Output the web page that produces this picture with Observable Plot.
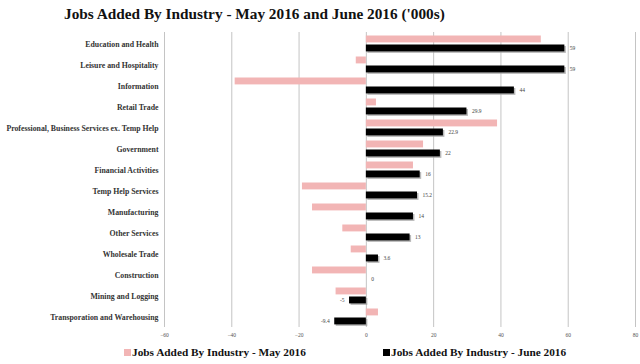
<!DOCTYPE html>
<html>
<head>
<meta charset="utf-8">
<script src="https://cdn.jsdelivr.net/npm/d3@7"></script>
<script src="https://cdn.jsdelivr.net/npm/@observablehq/plot@0.6"></script>
<style>
  body { margin: 0; background: #fff; width: 640px; height: 364px; overflow: hidden; font-family: "Liberation Serif", serif; }
  #title { height: 28px; line-height: 28px; padding-left: 64px; font-weight: bold; font-size: 15.3px; color: #111; }
  #legend { position: relative; height: 20px; font-weight: bold; font-size: 11.3px; color: #111; }
  .item { position: absolute; top: 2px; white-space: nowrap; }
  .sw { display: inline-block; width: 7px; height: 7px; margin-right: 1px; vertical-align: 0px; }
</style>
</head>
<body>
<div id="title">Jobs Added By Industry - May 2016 and June 2016 ('000s)</div>
<div id="chart"></div>
<div id="legend"></div>
<script>
const industries = [
  "Education and Health",
  "Leisure and Hospitality",
  "Information",
  "Retail Trade",
  "Professional, Business Services ex. Temp Help",
  "Government",
  "Financial Activities",
  "Temp Help Services",
  "Manufacturing",
  "Other Services",
  "Wholesale Trade",
  "Construction",
  "Mining and Logging",
  "Transporation and Warehousing"
];
const may2016 = [52, -3, -39, 3, 39, 17, 14, -19, -16, -7, -4.5, -16, -9, 3.6];
const june2016 = [59, 59, 44, 29.9, 22.9, 22, 16, 15.2, 14, 13, 3.6, 0, -5, -9.4];
const juneLabels = ["59", "59", "44", "29.9", "22.9", "22", "16", "15.2", "14", "13", "3.6", "0", "-5", "-9.4"];
const xTicks = [-60, -40, -20, 0, 20, 40, 60, 80];
const seriesNames = ["Jobs Added By Industry - May 2016", "Jobs Added By Industry - June 2016"];
const seriesColors = ["#f2b5b5", "#000000"];

const rows = industries.map((name, i) => ({industry: name, may: may2016[i], june: june2016[i], label: juneLabels[i]}));

const chart = Plot.plot({
  width: 640,
  height: 316,
  marginLeft: 164,
  marginRight: 5,
  marginTop: 4,
  marginBottom: 17,
  style: {fontFamily: "Liberation Serif, serif", background: "#fff"},
  x: {domain: [-60, 80], ticks: xTicks},
  y: {domain: industries, padding: 0},
  marks: [
    Plot.gridX(xTicks, {stroke: "#c4c4c4", strokeOpacity: 1, strokeWidth: 1}),
    Plot.barX(rows, {x: "may", y: "industry", fill: seriesColors[0], insetTop: 2.5, insetBottom: 11.6}),
    Plot.barX(rows, {x: "june", y: "industry", fill: "#9a9a9a", fillOpacity: 0.7, insetTop: 11.5, insetBottom: 2.6, dx: 1.5, dy: 1.5}),
    Plot.barX(rows, {x: "june", y: "industry", fill: seriesColors[1], insetTop: 11.5, insetBottom: 2.6}),
    Plot.text(rows.filter(d => d.june >= 0), {x: "june", y: "industry", text: "label", dx: 5, dy: 4.5, textAnchor: "start", fontSize: 5.5, fill: "#444"}),
    Plot.text(rows.filter(d => d.june < 0), {x: "june", y: "industry", text: "label", dx: -5, dy: 4.5, textAnchor: "end", fontSize: 5.5, fill: "#444"}),
    Plot.axisX({ticks: xTicks, tickSize: 0, tickPadding: 6, fontSize: 5.5, fill: "#555", label: null}),
    Plot.axisY({tickSize: 0, tickPadding: 6, fontSize: 7.8, fontWeight: "bold", fill: "#333", label: null})
  ]
});
document.getElementById("chart").appendChild(chart);

const legend = document.getElementById("legend");
const lefts = [124, 383];
seriesNames.forEach((name, i) => {
  const item = document.createElement("div");
  item.className = "item";
  item.style.left = lefts[i] + "px";
  const sw = document.createElement("span");
  sw.className = "sw";
  sw.style.background = seriesColors[i];
  item.appendChild(sw);
  item.appendChild(document.createTextNode(name));
  legend.appendChild(item);
});
</script>
</body>
</html>
